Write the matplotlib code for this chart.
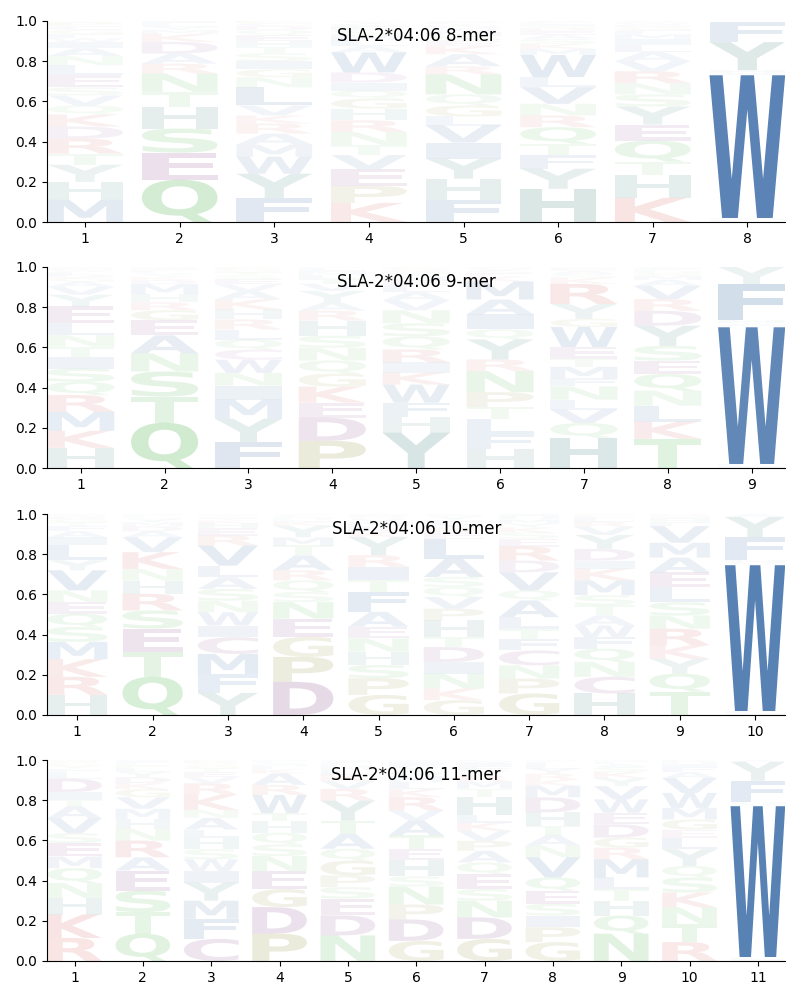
import matplotlib
matplotlib.use("Agg")
import matplotlib.pyplot as plt
from matplotlib.textpath import TextPath
from matplotlib.patches import PathPatch
from matplotlib.font_manager import FontProperties
from matplotlib.transforms import Affine2D

allele = "SLA-2*04:06"

# each position: (letter, probability) from bottom of the stack to the top
mer8 = [
    [("M", .11), ("H", .09), ("Y", .085), ("T", .055), ("R", .075), ("D", .06), ("K", .06), ("Q", .045), ("V", .05), ("S", .04),
     ("E", .06), ("L", .05), ("N", .045), ("A", .04), ("I", .03), ("W", .02), ("F", .02), ("G", .02), ("C", .02), ("P", .02)],
    [("Q", .21), ("E", .135), ("S", .12), ("H", .108), ("T", .075), ("N", .09), ("R", .05), ("A", .05), ("D", .058), ("K", .04),
     ("M", .02), ("Y", .015), ("L", .015), ("F", .014)],
    [("F", .12), ("Y", .12), ("W", .085), ("M", .06), ("A", .055), ("R", .05), ("K", .04), ("V", .05), ("L", .09), ("N", .05),
     ("G", .04), ("I", .04), ("S", .04), ("T", .03), ("H", .03), ("E", .03), ("Q", .025), ("D", .02), ("C", .015), ("P", .015)],
    [("K", .095), ("P", .085), ("E", .083), ("V", .07), ("T", .05), ("N", .065), ("R", .058), ("H", .058), ("G", .05), ("Q", .04),
     ("I", .04), ("D", .05), ("W", .1), ("A", .03), ("L", .03), ("M", .025), ("S", .025), ("F", .02), ("C", .013), ("Y", .013)],
    [("F", .11), ("H", .105), ("Y", .1), ("I", .08), ("V", .085), ("L", .045), ("G", .055), ("Q", .055), ("N", .1), ("R", .04),
     ("A", .06), ("K", .04), ("E", .025), ("S", .025), ("M", .02), ("W", .015), ("D", .015), ("T", .01), ("P", .01), ("C", .005)],
    [("H", .165), ("Y", .1), ("F", .066), ("T", .058), ("Q", .083), ("R", .058), ("N", .058), ("V", .083), ("L", .05), ("W", .11),
     ("M", .03), ("K", .025), ("S", .025), ("A", .02), ("E", .02), ("D", .015), ("G", .01), ("I", .01), ("P", .01), ("C", .004)],
    [("K", .12), ("H", .115), ("T", .065), ("Q", .105), ("E", .08), ("Y", .09), ("S", .06), ("N", .055), ("R", .06), ("V", .05),
     ("A", .045), ("L", .035), ("I", .03), ("M", .025), ("F", .02), ("G", .015), ("D", .01), ("W", .01), ("P", .005), ("C", .005)],
    [("L", .01), ("M", .01), ("W", .71), ("I", .01), ("H", .015), ("Y", .14), ("F", .1)],
]

mer9 = [
    [("H", .1), ("K", .085), ("M", .095), ("R", .083), ("Q", .066), ("S", .066), ("I", .058), ("T", .05), ("N", .058), ("L", .058),
     ("E", .085), ("Y", .058), ("V", .04), ("A", .025), ("G", .02), ("D", .015), ("F", .015), ("W", .01), ("P", .008), ("C", .005)],
    [("Q", .225), ("T", .13), ("S", .125), ("N", .09), ("A", .09), ("E", .075), ("G", .05), ("R", .04), ("H", .04), ("M", .05),
     ("D", .02), ("K", .015), ("Y", .01), ("V", .01), ("L", .008), ("P", .007), ("F", .005), ("I", .005), ("W", .003), ("C", .002)],
    [("F", .13), ("Y", .115), ("M", .095), ("I", .07), ("N", .063), ("W", .066), ("C", .05), ("Q", .05), ("L", .05), ("R", .05),
     ("H", .05), ("K", .05), ("A", .04), ("V", .035), ("E", .025), ("S", .02), ("T", .015), ("G", .01), ("D", .008), ("P", .008)],
    [("P", .135), ("D", .115), ("E", .075), ("K", .08), ("G", .065), ("Q", .065), ("N", .063), ("S", .06), ("H", .075), ("R", .05),
     ("A", .04), ("Y", .058), ("V", .035), ("T", .025), ("L", .02), ("M", .015), ("I", .01), ("F", .01), ("W", .002), ("C", .002)],
    [("Y", .175), ("H", .08), ("F", .07), ("W", .09), ("K", .06), ("I", .05), ("R", .065), ("Q", .065), ("S", .065), ("N", .065),
     ("V", .05), ("A", .04), ("L", .035), ("E", .025), ("M", .02), ("T", .015), ("D", .01), ("G", .01), ("P", .005), ("C", .005)],
    [("H", .095), ("F", .075), ("L", .075), ("T", .058), ("P", .074), ("N", .105), ("R", .058), ("Y", .1), ("Q", .05), ("I", .074),
     ("A", .074), ("M", .09), ("K", .025), ("E", .015), ("S", .015), ("V", .01), ("G", .005), ("D", .002), ("W", .002), ("C", .002)],
    [("H", .15), ("Q", .074), ("V", .066), ("L", .05), ("N", .066), ("F", .04), ("M", .058), ("T", .04), ("E", .058), ("W", .1),
     ("G", .04), ("Y", .074), ("R", .1), ("K", .03), ("S", .02), ("A", .015), ("D", .01), ("I", .005), ("P", .002), ("C", .002)],
    [("T", .145), ("K", .085), ("L", .08), ("N", .075), ("Q", .083), ("E", .066), ("S", .074), ("Y", .1), ("D", .074), ("R", .058),
     ("V", .066), ("A", .03), ("M", .02), ("G", .015), ("H", .01), ("F", .007), ("I", .005), ("P", .004), ("W", .002), ("C", .001)],
    [("I", .01), ("L", .01), ("W", .68), ("M", .01), ("A", .01), ("H", .015), ("F", .18), ("Y", .085)],
]

mer10 = [
    [("H", .1), ("R", .09), ("K", .088), ("M", .086), ("S", .074), ("Q", .066), ("E", .058), ("N", .058), ("V", .1), ("Y", .05),
     ("L", .074), ("I", .04), ("A", .03), ("F", .025), ("T", .02), ("G", .015), ("D", .01), ("W", .008), ("P", .005), ("C", .003)],
    [("Q", .19), ("T", .125), ("E", .115), ("S", .09), ("R", .083), ("H", .066), ("N", .058), ("K", .083), ("V", .074), ("A", .03),
     ("D", .025), ("M", .02), ("Y", .015), ("G", .01), ("L", .005), ("P", .005), ("F", .003), ("I", .002), ("W", .001), ("C", .001)],
    [("Y", .11), ("F", .094), ("M", .1), ("C", .083), ("I", .058), ("W", .066), ("N", .058), ("S", .058), ("A", .058), ("L", .058),
     ("V", .1), ("R", .05), ("E", .035), ("H", .025), ("K", .015), ("T", .01), ("G", .008), ("Q", .007), ("D", .004), ("P", .003)],
    [("D", .165), ("P", .124), ("G", .1), ("E", .09), ("N", .083), ("S", .05), ("Q", .058), ("R", .05), ("A", .074), ("T", .05),
     ("M", .04), ("Y", .058), ("K", .02), ("L", .01), ("H", .008), ("I", .007), ("F", .005), ("V", .004), ("W", .002), ("C", .002)],
    [("G", .1), ("P", .083), ("S", .066), ("H", .066), ("N", .066), ("E", .058), ("A", .074), ("F", .1), ("T", .058), ("I", .066),
     ("R", .058), ("Y", .09), ("K", .03), ("L", .025), ("M", .02), ("V", .015), ("Q", .01), ("D", .008), ("W", .005), ("C", .002)],
    [("G", .074), ("K", .058), ("N", .074), ("I", .058), ("D", .074), ("T", .05), ("H", .083), ("P", .058), ("V", .058), ("Q", .05),
     ("S", .05), ("A", .09), ("L", .1), ("E", .03), ("R", .025), ("M", .02), ("F", .02), ("Y", .015), ("W", .008), ("C", .005)],
    [("G", .107), ("P", .074), ("N", .066), ("C", .074), ("F", .058), ("T", .05), ("L", .058), ("A", .083), ("Q", .05), ("V", .09),
     ("D", .058), ("R", .07), ("E", .04), ("S", .03), ("K", .025), ("Y", .02), ("M", .02), ("H", .015), ("I", .01), ("W", .002)],
    [("H", .107), ("C", .083), ("N", .074), ("Q", .066), ("F", .058), ("W", .058), ("A", .05), ("T", .05), ("S", .05), ("M", .074),
     ("K", .058), ("I", .04), ("D", .058), ("Y", .07), ("V", .04), ("R", .025), ("L", .02), ("E", .01), ("G", .005), ("P", .004)],
    [("T", .116), ("Q", .09), ("Y", .074), ("K", .066), ("R", .083), ("N", .066), ("S", .066), ("L", .074), ("E", .074), ("A", .074),
     ("M", .074), ("V", .083), ("F", .02), ("H", .015), ("I", .01), ("G", .008), ("D", .005), ("P", .002)],
    [("I", .01), ("L", .01), ("W", .725), ("M", .01), ("H", .015), ("F", .115), ("Y", .1), ("A", .015)],
]

mer11 = [
    [("R", .115), ("K", .116), ("H", .083), ("N", .074), ("Q", .074), ("M", .058), ("E", .066), ("S", .05), ("V", .074), ("A", .058),
     ("T", .033), ("I", .04), ("D", .066), ("L", .03), ("F", .02), ("Y", .015), ("G", .01), ("P", .01), ("W", .005), ("C", .003)],
    [("Q", .136), ("T", .107), ("S", .107), ("E", .1), ("A", .066), ("R", .083), ("N", .058), ("H", .05), ("M", .05), ("V", .058),
     ("G", .04), ("K", .03), ("D", .03), ("Y", .025), ("L", .02), ("P", .015), ("F", .01), ("I", .008), ("W", .005), ("C", .002)],
    [("C", .11), ("F", .1), ("M", .09), ("Y", .09), ("I", .058), ("W", .058), ("S", .05), ("H", .058), ("L", .04), ("A", .058),
     ("N", .04), ("K", .074), ("R", .058), ("V", .03), ("E", .025), ("T", .02), ("G", .015), ("Q", .01), ("D", .01), ("P", .006)],
    [("P", .136), ("D", .132), ("G", .09), ("E", .09), ("N", .074), ("S", .058), ("Q", .058), ("H", .058), ("T", .04), ("W", .09),
     ("R", .05), ("A", .058), ("K", .02), ("L", .015), ("M", .01), ("V", .008), ("Y", .005), ("F", .004), ("I", .004), ("C", .002)],
    [("N", .127), ("D", .1), ("E", .083), ("S", .058), ("P", .058), ("G", .074), ("Q", .058), ("A", .074), ("T", .066), ("Y", .1),
     ("R", .058), ("V", .04), ("K", .03), ("L", .025), ("M", .015), ("H", .01), ("F", .01), ("I", .008), ("W", .004), ("C", .002)],
    [("G", .1), ("D", .107), ("P", .074), ("N", .09), ("S", .05), ("H", .08), ("E", .058), ("T", .066), ("A", .074), ("V", .05),
     ("R", .066), ("K", .04), ("L", .035), ("M", .03), ("Q", .025), ("Y", .02), ("F", .015), ("I", .01), ("W", .005), ("C", .005)],
    [("G", .11), ("D", .107), ("N", .083), ("S", .058), ("E", .074), ("Q", .058), ("A", .058), ("P", .05), ("V", .05), ("K", .04),
     ("L", .04), ("H", .09), ("T", .04), ("M", .035), ("R", .03), ("Y", .025), ("F", .02), ("I", .015), ("W", .01), ("C", .007)],
    [("G", .094), ("P", .074), ("I", .058), ("S", .058), ("E", .066), ("Q", .066), ("V", .1), ("N", .058), ("A", .05), ("T", .05),
     ("H", .066), ("D", .074), ("M", .058), ("K", .03), ("R", .03), ("Y", .025), ("L", .02), ("F", .015), ("W", .005), ("C", .003)],
    [("N", .136), ("Q", .09), ("H", .074), ("T", .058), ("L", .058), ("M", .09), ("R", .058), ("G", .05), ("D", .066), ("E", .058),
     ("W", .066), ("V", .066), ("Y", .04), ("K", .03), ("S", .025), ("A", .015), ("F", .01), ("I", .005), ("P", .003), ("C", .002)],
    [("R", .094), ("T", .09), ("N", .083), ("K", .074), ("S", .074), ("Q", .058), ("Y", .083), ("L", .058), ("E", .04), ("G", .05),
     ("M", .058), ("W", .074), ("V", .074), ("A", .03), ("F", .025), ("I", .015), ("H", .01), ("D", .008), ("P", .004), ("C", .002)],
    [("I", .01), ("L", .01), ("W", .75), ("M", .01), ("H", .01), ("F", .107), ("Y", .094), ("A", .009)],
]

logos = [("8-mer", mer8), ("9-mer", mer9), ("10-mer", mer10), ("11-mer", mer11)]

blue = "#3d6ca8"
teal = "#4a8a82"
green = "#55b855"
red = "#d0504a"
purple = "#8a4a8e"
olive = "#8c8c35"
colors = {
    "W": blue, "F": blue, "M": blue, "L": blue, "I": blue, "V": blue, "A": blue,
    "Y": teal, "H": teal,
    "Q": green, "N": green, "S": green, "T": green,
    "K": red, "R": red,
    "D": purple, "E": purple, "C": purple,
    "P": olive, "G": olive,
}

fp = FontProperties(family="DejaVu Sans", weight="bold")


def draw_letter(ax, letter, x, y0, h, w=0.8):
    tp = TextPath((0, 0), letter, size=1, prop=fp)
    bb = tp.get_extents()
    tr = Affine2D().translate(-bb.x0, -bb.y0).scale(w / bb.width, h / bb.height).translate(x - w / 2, y0)
    a = min(0.86, 0.012 + 1.17 * h)
    ax.add_patch(PathPatch(tr.transform_path(tp), fc=colors[letter], ec="none", lw=0, alpha=a))


fig = plt.figure(figsize=(8, 10), dpi=100)
bottoms = [0.778, 0.532, 0.285, 0.039]

for (name, data), b in zip(logos, bottoms):
    ax = fig.add_axes([0.059, b, 0.9225, 0.201])
    for i, stack in enumerate(data):
        pos = i + 1
        y = 0.0
        for letter, p in stack:
            draw_letter(ax, letter, pos, y, p)
            y += p
    n = len(data)
    ax.set_xlim(0.6, n + 0.4)
    ax.set_ylim(0, 1)
    ax.set_xticks(range(1, n + 1))
    ax.set_yticks([0, .2, .4, .6, .8, 1.0])
    ax.spines["top"].set_visible(False)
    ax.spines["right"].set_visible(False)
    ax.text(0.5, 0.925, allele + " " + name, transform=ax.transAxes, ha="center", va="center", fontsize=12)

fig.savefig("out.png", dpi=100)
